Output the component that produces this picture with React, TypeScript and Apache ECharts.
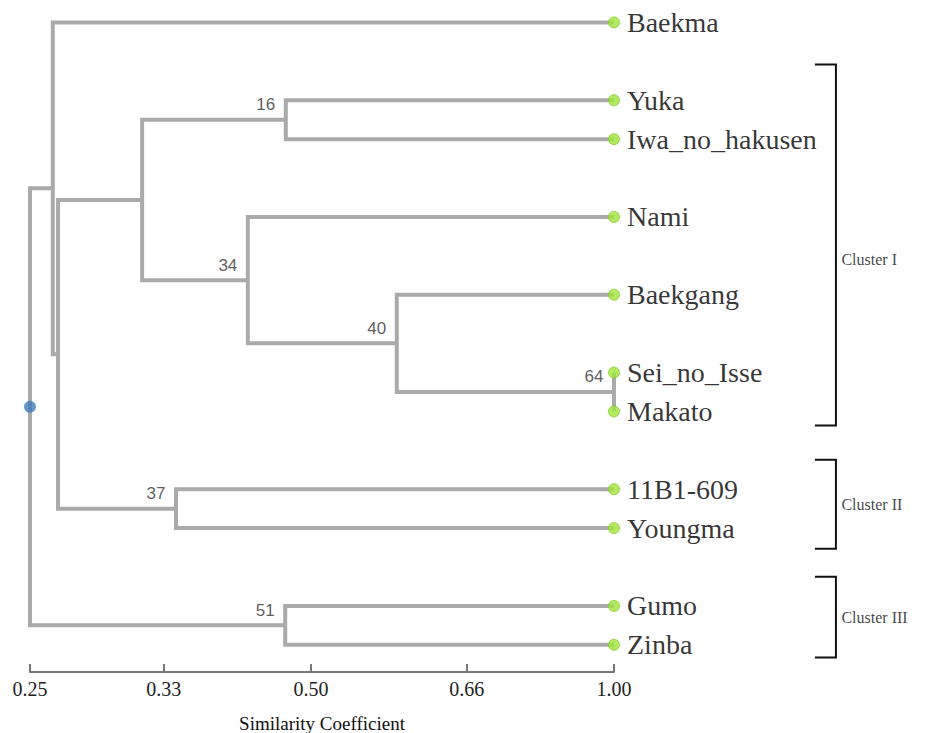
import React, { useEffect, useRef } from "react";
import * as echarts from "echarts";

// Leaves (top to bottom) and their row slots on the vertical axis
const leafNames = [
  "Baekma",
  "Yuka",
  "Iwa_no_hakusen",
  "Nami",
  "Baekgang",
  "Sei_no_Isse",
  "Makato",
  "11B1-609",
  "Youngma",
  "Gumo",
  "Zinba",
];
const leafRows = [0, 2, 3, 5, 7, 9, 10, 12, 13, 15, 16];

// Merges: node ids 0..10 are leaves, merge i gets id 11 + i
const mergeLeft = [1, 5, 4, 3, 11, 7, 15, 0, 9, 18];
const mergeRight = [2, 6, 12, 13, 14, 8, 16, 17, 10, 19];
// Merge position along the (non-linear) similarity axis, 0 = root .. 100 = 1.00
const mergeHeights = [43.8, 100, 62.8, 37.3, 19.2, 25.0, 4.8, 3.9, 43.7, 0];
const mergeSupport = ["16", "64", "40", "34", "", "37", "", "", "51", ""];

// Axis ticks
const tickPositions = [0, 22.9, 48.1, 74.8, 100];
const tickLabels = ["0.25", "0.33", "0.50", "0.66", "1.00"];

// Clusters: bracket row extents and label row
const clusterNames = ["Cluster I", "Cluster II", "Cluster III"];
const clusterTop = [1.08, 11.24, 14.25];
const clusterBottom = [10.36, 13.53, 16.33];
const clusterLabelRow = [6.1, 12.4, 15.3];

export default function App() {
  const ref = useRef<HTMLDivElement>(null);

  useEffect(() => {
    if (!ref.current) return;
    const chart = echarts.init(ref.current, null, { renderer: "svg" });

    const nodeX: number[] = leafRows.map(() => 100);
    const nodeY: number[] = leafRows.slice();
    const branchData: any[] = [];
    const supportData: any[] = [];
    mergeLeft.forEach((l, i) => {
      const r = mergeRight[i];
      const h = mergeHeights[i];
      const y = (nodeY[l] + nodeY[r]) / 2;
      nodeX.push(h);
      nodeY.push(y);
      branchData.push({
        coords: [
          [nodeX[l], nodeY[l]],
          [h, nodeY[l]],
          [h, nodeY[r]],
          [nodeX[r], nodeY[r]],
        ],
      });
      if (mergeSupport[i]) {
        supportData.push({ name: mergeSupport[i], value: [h, y] });
      }
    });
    const rootId = nodeX.length - 1;

    const armX0 = 134.4;
    const armX1 = 138.0;
    const bracketData = clusterNames.map((_, i) => ({
      coords: [
        [armX0, clusterTop[i]],
        [armX1, clusterTop[i]],
        [armX1, clusterBottom[i]],
        [armX0, clusterBottom[i]],
      ],
    }));

    const option: any = {
      animation: false,
      backgroundColor: "#ffffff",
      grid: {
        left: 30,
        right: 319,
        top: 3,
        bottom: 61,
        containLabel: false,
        outerBoundsMode: "none",
      },
      xAxis: {
        type: "value",
        position: "bottom",
        min: 0,
        max: 100,
        splitLine: { show: false },
        axisLine: { show: true, onZero: false, lineStyle: { color: "#777777", width: 2 } },
        axisTick: {
          show: true,
          inside: true,
          length: 8,
          customValues: tickPositions,
          lineStyle: { color: "#777777", width: 2 },
        },
        axisLabel: {
          show: true,
          customValues: tickPositions,
          margin: 7,
          fontFamily: "Liberation Serif",
          fontSize: 20,
          color: "#222222",
          formatter: (v: number) => {
            const idx = tickPositions.findIndex((t) => Math.abs(t - v) < 1e-6);
            return idx >= 0 ? tickLabels[idx] : "";
          },
        },
        name: "Similarity Coefficient",
        nameLocation: "middle",
        nameGap: 42,
        nameTextStyle: {
          fontFamily: "Liberation Serif",
          fontSize: 19,
          color: "#111111",
        },
      },
      yAxis: {
        type: "value",
        inverse: true,
        min: -0.5,
        max: 16.7,
        show: false,
        splitLine: { show: false },
      },
      series: [
        {
          type: "lines",
          coordinateSystem: "cartesian2d",
          polyline: true,
          clip: false,
          silent: true,
          z: 2,
          lineStyle: { color: "#aaaaaa", width: 4, opacity: 1 },
          data: branchData,
        },
        {
          type: "lines",
          coordinateSystem: "cartesian2d",
          polyline: true,
          clip: false,
          silent: true,
          z: 2,
          lineStyle: { color: "#111111", width: 2, opacity: 1 },
          data: bracketData,
        },
        {
          type: "scatter",
          clip: false,
          silent: true,
          z: 4,
          symbol: "circle",
          symbolSize: 11,
          itemStyle: { color: "#9fe63a", borderColor: "#88cc30", borderWidth: 1 },
          label: {
            show: true,
            position: "right",
            distance: 7,
            formatter: (p: any) => p.name,
            fontFamily: "Liberation Serif",
            fontSize: 28,
            color: "#000000",
          },
          data: leafNames.map((n, i) => ({ name: n, value: [100, leafRows[i]] })),
        },
        {
          type: "scatter",
          clip: false,
          silent: true,
          z: 4,
          symbol: "circle",
          symbolSize: 12,
          itemStyle: { color: "#3d7cb9" },
          data: [[nodeX[rootId], nodeY[rootId]]],
        },
        {
          type: "scatter",
          clip: false,
          silent: true,
          z: 5,
          symbol: "circle",
          symbolSize: 1,
          itemStyle: { color: "rgba(0,0,0,0)" },
          label: {
            show: true,
            position: "left",
            distance: 10,
            offset: [0, -15],
            formatter: (p: any) => p.name,
            fontFamily: "Liberation Sans",
            fontSize: 17,
            color: "#333333",
          },
          data: supportData,
        },
        {
          type: "scatter",
          clip: false,
          silent: true,
          z: 5,
          symbol: "circle",
          symbolSize: 1,
          itemStyle: { color: "rgba(0,0,0,0)" },
          label: {
            show: true,
            position: "right",
            distance: 5,
            formatter: (p: any) => p.name,
            fontFamily: "Liberation Serif",
            fontSize: 16,
            color: "#111111",
          },
          data: clusterNames.map((n, i) => ({ name: n, value: [armX1, clusterLabelRow[i]] })),
        },
      ],
    };

    chart.setOption(option);
    return () => chart.dispose();
  }, []);

  return (
    <div
      ref={ref}
      style={{ position: "fixed", left: 0, top: 0, width: 933, height: 733 }}
    />
  );
}
